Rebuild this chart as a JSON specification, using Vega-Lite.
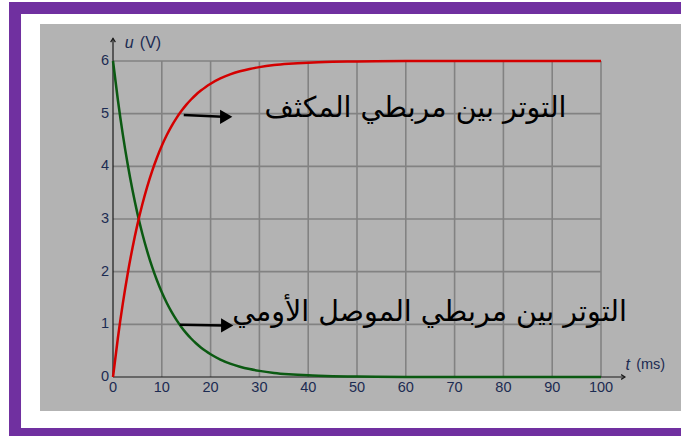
{
  "$schema": "https://vega.github.io/schema/vega-lite/v6.json",
  "width": 681,
  "height": 436,
  "autosize": {"type": "none"},
  "padding": 0,
  "background": "#ffffff",
  "config": {"view": {"stroke": null}},
  "datasets": {
    "charge": [
      {"t": 0, "u": 0}, {"t": 1, "u": 0.740}, {"t": 2, "u": 1.388}, {"t": 3, "u": 1.957},
      {"t": 4, "u": 2.455}, {"t": 5, "u": 2.893}, {"t": 6, "u": 3.276}, {"t": 7, "u": 3.611},
      {"t": 8, "u": 3.906}, {"t": 9, "u": 4.164}, {"t": 10, "u": 4.391}, {"t": 11, "u": 4.589},
      {"t": 12, "u": 4.763}, {"t": 13, "u": 4.915}, {"t": 14, "u": 5.049}, {"t": 15, "u": 5.167},
      {"t": 16, "u": 5.269}, {"t": 17, "u": 5.359}, {"t": 18, "u": 5.438}, {"t": 19, "u": 5.507},
      {"t": 20, "u": 5.568}, {"t": 22, "u": 5.668}, {"t": 24, "u": 5.745}, {"t": 26, "u": 5.804},
      {"t": 28, "u": 5.849}, {"t": 30, "u": 5.884}, {"t": 33, "u": 5.922}, {"t": 36, "u": 5.947},
      {"t": 40, "u": 5.969}, {"t": 45, "u": 5.984}, {"t": 50, "u": 5.992}, {"t": 60, "u": 5.998},
      {"t": 70, "u": 6}, {"t": 80, "u": 6}, {"t": 90, "u": 6}, {"t": 100, "u": 6}
    ],
    "resistor": [
      {"t": 0, "u": 6}, {"t": 1, "u": 5.260}, {"t": 2, "u": 4.612}, {"t": 3, "u": 4.043},
      {"t": 4, "u": 3.545}, {"t": 5, "u": 3.107}, {"t": 6, "u": 2.724}, {"t": 7, "u": 2.389},
      {"t": 8, "u": 2.094}, {"t": 9, "u": 1.836}, {"t": 10, "u": 1.609}, {"t": 11, "u": 1.411},
      {"t": 12, "u": 1.237}, {"t": 13, "u": 1.085}, {"t": 14, "u": 0.951}, {"t": 15, "u": 0.833},
      {"t": 16, "u": 0.731}, {"t": 17, "u": 0.641}, {"t": 18, "u": 0.562}, {"t": 19, "u": 0.493},
      {"t": 20, "u": 0.432}, {"t": 22, "u": 0.332}, {"t": 24, "u": 0.255}, {"t": 26, "u": 0.196},
      {"t": 28, "u": 0.151}, {"t": 30, "u": 0.116}, {"t": 33, "u": 0.078}, {"t": 36, "u": 0.053},
      {"t": 40, "u": 0.031}, {"t": 45, "u": 0.016}, {"t": 50, "u": 0.008}, {"t": 60, "u": 0.002},
      {"t": 70, "u": 0}, {"t": 80, "u": 0}, {"t": 90, "u": 0}, {"t": 100, "u": 0}
    ],
    "vgrid": [{"t": 10}, {"t": 20}, {"t": 30}, {"t": 40}, {"t": 50}, {"t": 60}, {"t": 70}, {"t": 80}, {"t": 90}, {"t": 100}],
    "hgrid": [{"u": 1}, {"u": 2}, {"u": 3}, {"u": 4}, {"u": 5}, {"u": 6}]
  },
  "encoding": {
    "x": {"type": "quantitative", "scale": {"domain": [-23.156, 116.393], "nice": false, "zero": false}, "axis": null},
    "y": {"type": "quantitative", "scale": {"domain": [-1.1203, 7.1582], "nice": false, "zero": false}, "axis": null}
  },
  "layer": [
    {
      "data": {"values": [{}]},
      "mark": {"type": "rect", "fill": "#7030a0"},
      "encoding": {"x": {"datum": -21.31}, "x2": {"datum": 117}, "y": {"datum": 7.12}, "y2": {"datum": -1.2}}
    },
    {
      "data": {"values": [{}]},
      "mark": {"type": "rect", "fill": "#ffffff"},
      "encoding": {"x": {"datum": -18.85}, "x2": {"datum": 117}, "y": {"datum": 6.892}, "y2": {"datum": -0.968}}
    },
    {
      "data": {"values": [{}]},
      "mark": {"type": "rect", "fill": "#b3b3b3"},
      "encoding": {"x": {"datum": -14.96}, "x2": {"datum": 117}, "y": {"datum": 6.702}, "y2": {"datum": -0.646}}
    },
    {
      "data": {"name": "vgrid"},
      "mark": {"type": "rule", "stroke": "#828282", "strokeWidth": 1.6},
      "encoding": {"x": {"field": "t", "type": "quantitative"}, "y": {"datum": 0}, "y2": {"datum": 6}}
    },
    {
      "data": {"name": "hgrid"},
      "mark": {"type": "rule", "stroke": "#828282", "strokeWidth": 1.6},
      "encoding": {"y": {"field": "u", "type": "quantitative"}, "x": {"datum": 0}, "x2": {"datum": 100}}
    },
    {
      "data": {"values": [{"v": 0}]},
      "mark": {"type": "rule", "stroke": "#1a1a1a", "strokeWidth": 1.2},
      "encoding": {"x": {"datum": 0}, "y": {"datum": 0}, "y2": {"datum": 6.43}}
    },
    {
      "data": {"values": [{"v": 0}]},
      "mark": {"type": "rule", "stroke": "#1a1a1a", "strokeWidth": 1.2},
      "encoding": {"y": {"datum": 0}, "x": {"datum": 0}, "x2": {"datum": 104.9}}
    },
    {
      "data": {"values": [{"v": 0}]},
      "mark": {"type": "point", "shape": "M-0.5,0.8L0,0L0.5,0.8", "filled": false, "stroke": "#1a1a1a", "strokeWidth": 1.2, "size": 90, "opacity": 1},
      "encoding": {"x": {"datum": 0}, "y": {"datum": 6.43}}
    },
    {
      "data": {"values": [{"v": 0}]},
      "mark": {"type": "point", "shape": "M-0.8,-0.5L0,0L-0.8,0.5", "filled": false, "stroke": "#1a1a1a", "strokeWidth": 1.2, "size": 90, "opacity": 1},
      "encoding": {"x": {"datum": 104.9}, "y": {"datum": 0}}
    },
    {
      "data": {"name": "resistor"},
      "mark": {"type": "line", "stroke": "#0b5a12", "strokeWidth": 2.5, "interpolate": "monotone"},
      "encoding": {"x": {"field": "t", "type": "quantitative"}, "y": {"field": "u", "type": "quantitative"}}
    },
    {
      "data": {"name": "charge"},
      "mark": {"type": "line", "stroke": "#d40000", "strokeWidth": 2.5, "interpolate": "monotone"},
      "encoding": {"x": {"field": "t", "type": "quantitative"}, "y": {"field": "u", "type": "quantitative"}}
    },
    {
      "data": {"values": [{"v": 0}, {"v": 1}, {"v": 2}, {"v": 3}, {"v": 4}, {"v": 5}, {"v": 6}]},
      "mark": {"type": "text", "align": "right", "baseline": "middle", "dx": -4, "font": "Liberation Sans", "fontSize": 14.5, "fill": "#1c2b52"},
      "encoding": {"x": {"datum": 0}, "y": {"field": "v", "type": "quantitative"}, "text": {"field": "v", "type": "nominal"}}
    },
    {
      "data": {"values": [{"v": 0}, {"v": 10}, {"v": 20}, {"v": 30}, {"v": 40}, {"v": 50}, {"v": 60}, {"v": 70}, {"v": 80}, {"v": 90}, {"v": 100}]},
      "mark": {"type": "text", "align": "center", "baseline": "top", "dy": 4, "font": "Liberation Sans", "fontSize": 14.5, "fill": "#1c2b52"},
      "encoding": {"x": {"field": "v", "type": "quantitative"}, "y": {"datum": 0}, "text": {"field": "v", "type": "nominal"}}
    },
    {
      "data": {"values": [{"label": "u"}]},
      "mark": {"type": "text", "align": "center", "baseline": "middle", "font": "Liberation Sans", "fontSize": 16, "fontStyle": "italic", "fill": "#1c2b52"},
      "encoding": {"x": {"datum": 3.3}, "y": {"datum": 6.34}, "text": {"field": "label"}}
    },
    {
      "data": {"values": [{"label": "(V)"}]},
      "mark": {"type": "text", "align": "left", "baseline": "middle", "font": "Liberation Sans", "fontSize": 16, "fill": "#1c2b52"},
      "encoding": {"x": {"datum": 5.5}, "y": {"datum": 6.34}, "text": {"field": "label"}}
    },
    {
      "data": {"values": [{"label": "t"}]},
      "mark": {"type": "text", "align": "center", "baseline": "middle", "font": "Liberation Sans", "fontSize": 16, "fontStyle": "italic", "fill": "#1c2b52"},
      "encoding": {"x": {"datum": 105.5}, "y": {"datum": 0.23}, "text": {"field": "label"}}
    },
    {
      "data": {"values": [{"label": "(ms)"}]},
      "mark": {"type": "text", "align": "left", "baseline": "middle", "font": "Liberation Sans", "fontSize": 14.5, "fill": "#1c2b52"},
      "encoding": {"x": {"datum": 107.2}, "y": {"datum": 0.23}, "text": {"field": "label"}}
    },
    {
      "data": {"values": [{"v": 0}]},
      "mark": {"type": "rule", "stroke": "#000000", "strokeWidth": 2.5},
      "encoding": {"x": {"datum": 14.5}, "y": {"datum": 4.975}, "x2": {"datum": 22.5}, "y2": {"datum": 4.94}}
    },
    {
      "data": {"values": [{"v": 0}]},
      "mark": {"type": "point", "shape": "triangle-right", "filled": true, "fill": "#000000", "size": 200, "opacity": 1},
      "encoding": {"x": {"datum": 23.2}, "y": {"datum": 4.94}}
    },
    {
      "data": {"values": [{"v": 0}]},
      "mark": {"type": "rule", "stroke": "#000000", "strokeWidth": 2.5},
      "encoding": {"x": {"datum": 13.7}, "y": {"datum": 0.99}, "x2": {"datum": 22.7}, "y2": {"datum": 0.98}}
    },
    {
      "data": {"values": [{"v": 0}]},
      "mark": {"type": "point", "shape": "triangle-right", "filled": true, "fill": "#000000", "size": 200, "opacity": 1},
      "encoding": {"x": {"datum": 23.4}, "y": {"datum": 0.98}}
    },
    {
      "data": {"values": [{"label": "التوتر بين مربطي المكثف"}]},
      "mark": {"type": "text", "align": "center", "baseline": "middle", "font": "DejaVu Sans", "fontSize": 28.5, "fill": "#000000"},
      "encoding": {"x": {"datum": 62.0}, "y": {"datum": 5.11}, "text": {"field": "label"}}
    },
    {
      "data": {"values": [{"label": "التوتر بين مربطي الموصل الأومي"}]},
      "mark": {"type": "text", "align": "center", "baseline": "middle", "font": "DejaVu Sans", "fontSize": 28.5, "fill": "#000000"},
      "encoding": {"x": {"datum": 64.86}, "y": {"datum": 1.234}, "text": {"field": "label"}}
    }
  ]
}
